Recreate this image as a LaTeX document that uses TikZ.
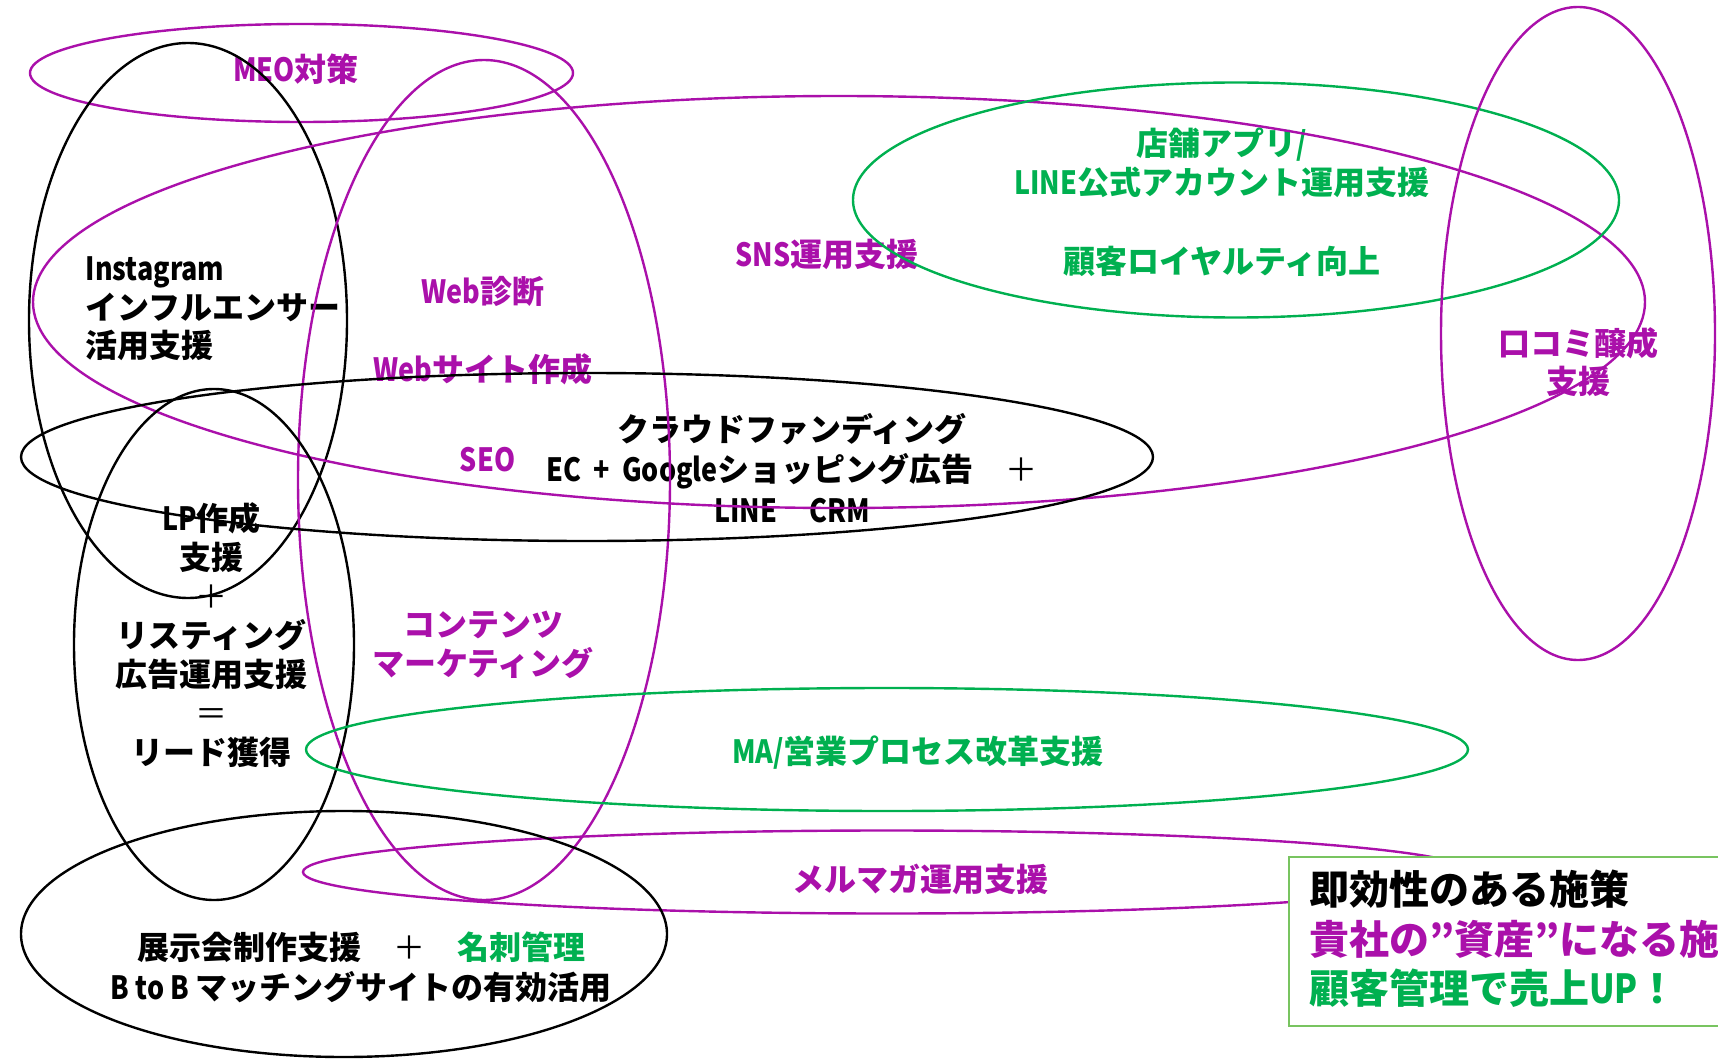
\documentclass[tikz,border=0pt]{standalone}
\usepackage{fontspec}
\setmainfont{Noto Sans CJK JP}
\newfontfamily\latf{Noto Sans CJK JP}[FakeStretch=0.84]
\newcommand{\lt}[1]{{\latf\bfseries #1}}
\definecolor{mag}{RGB}{170,16,170}
\definecolor{grn}{RGB}{0,176,80}
\definecolor{boxg}{RGB}{120,196,96}
\tikzset{
  ell/.style={line width=2.4pt},
  blk/.style={ell, draw=black},
  mg/.style={ell, draw=mag},
  gr/.style={ell, draw=grn},
  lbl/.style={font=\bfseries\fontsize{32}{38.5}\selectfont, align=center, inner sep=0pt},
  boxtext/.style={font=\bfseries\fontsize{40}{49.5}\selectfont, align=left, inner sep=0pt, anchor=west},
}
\begin{document}
\begin{tikzpicture}[x=1pt,y=-1pt]
\useasboundingbox (0,0) rectangle (1718,1059);
% labels
\node[lbl, text=mag] (meo) at (296,69) {\lt{MEO}対策};
\node[lbl, align=left, anchor=west] (insta) at (85.5,309) {\lt{Instagram}\\インフルエンサー\\活用支援};
\node[lbl, text=mag] (webdiag) at (483,291.5) {\lt{Web}診断};
\node[lbl, text=mag] (website) at (483,369) {\lt{Web}サイト作成};
\node[lbl, text=mag] (seo) at (487.6,460) {\lt{SEO}};
\node[lbl, text=mag] (sns) at (827,254) {\lt{SNS}運用支援};
\node[lbl, text=grn] (store) at (1221.7,163) {店舗アプリ\lt{/}\\\lt{LINE}公式アカウント運用支援};
\node[lbl, text=grn] (loyal) at (1221.7,261) {顧客ロイヤルティ向上};
\node[lbl, text=mag] (kuchi) at (1578,362) {口コミ醸成\\支援};
\node[lbl, font=\bfseries\fontsize{32}{40.5}\selectfont] (cf) at (792,468) {クラウドファンディング\\\lt{EC\ \ +\ \ Google}ショッピング広告　{\mdseries ＋}\\\lt{LINE}　\lt{CRM}};
\node[lbl, font=\bfseries\fontsize{32}{38.9}\selectfont] (lp) at (211.5,635) {\lt{LP}作成\\支援\\{\mdseries ＋}\\リスティング\\広告運用支援\\{\mdseries ＝}\\リード獲得};
\node[lbl, text=mag] (content) at (483,645) {コンテンツ\\マーケティング};
\node[lbl, text=grn] (ma) at (918,752.7) {\lt{MA/}営業プロセス改革支援};
\node[lbl, text=mag] (mail) at (920,879) {メルマガ運用支援};
\node[lbl, font=\bfseries\fontsize{32}{40.3}\selectfont] (expo) at (361,967) {展示会制作支援　{\mdseries ＋}　{\color{grn}名刺管理}\\\lt{B to B }マッチングサイトの有効活用};
% ellipses
\draw[mg]  (301.5,73) ellipse [x radius=271.5pt, y radius=49pt];
\draw[blk] (188,320.5) ellipse [x radius=159pt, y radius=277.5pt];
\draw[mg]  (484,480) ellipse [x radius=186pt, y radius=420pt];
\draw[mg]  (839,302) ellipse [x radius=806pt, y radius=206pt];
\draw[blk] (587,457) ellipse [x radius=566pt, y radius=84pt];
\draw[blk] (214,644.5) ellipse [x radius=140pt, y radius=255.5pt];
\draw[gr]  (1236,200) ellipse [x radius=383pt, y radius=117.5pt];
\draw[mg]  (1578,333.5) ellipse [x radius=137pt, y radius=326.5pt];
\draw[gr]  (887,749.5) ellipse [x radius=581pt, y radius=61.5pt];
\draw[mg]  (887,872) ellipse [x radius=584pt, y radius=41.5pt];
\draw[blk] (344,934) ellipse [x radius=323pt, y radius=123pt];
% summary box
\draw[draw=boxg, line width=2.6pt, fill=white] (1289,857) rectangle (1740,1026);
\node[boxtext] (summary) at (1309,939) {即効性のある施策\\{\color{mag}貴社の”資産”になる施策}\\{\color{grn}顧客管理で売上\lt{UP}！}};
\end{tikzpicture}
\end{document}
